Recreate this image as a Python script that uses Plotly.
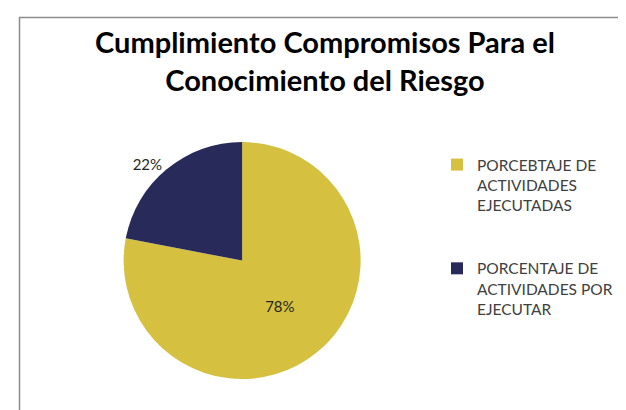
import plotly.graph_objects as go

# datos del gráfico
etiquetas = [
    "PORCEBTAJE DE<br>ACTIVIDADES<br>EJECUTADAS<br> <br> ",
    "PORCENTAJE DE<br>ACTIVIDADES POR<br>EJECUTAR",
]
valores = [78, 22]
colores = ["#D5C040", "#282A5A"]
titulo = "Cumplimiento Compromisos Para el<br>Conocimiento del Riesgo"

fig = go.Figure()

fig.add_trace(
    go.Pie(
        labels=etiquetas,
        values=valores,
        sort=False,
        direction="clockwise",
        rotation=0,
        marker=dict(colors=colores, line=dict(width=0)),
        textinfo="percent",
        texttemplate="%{percent:.0%}",
        textposition=["inside", "outside"],
        insidetextorientation="horizontal",
        textfont=dict(family="Lato", size=15, color="#262626"),
        outsidetextfont=dict(family="Lato", size=15, color="#262626"),
        domain=dict(x=[0.124, 0.624], y=[0.095, 0.673]),
        hoverinfo="label+percent",
    )
)

# marco del área del gráfico
fig.add_shape(
    type="rect", xref="paper", yref="paper",
    x0=11.5 / 626, x1=1.05, y0=-0.05, y1=1 - 9.5 / 410,
    line=dict(color="#8C8C8C", width=1.5),
)

fig.update_layout(
    width=626,
    height=410,
    margin=dict(l=0, r=0, t=0, b=0),
    paper_bgcolor="white",
    plot_bgcolor="white",
    title=dict(
        text=titulo,
        x=317 / 626,
        xanchor="center",
        y=1 - 45 / 410,
        yanchor="top",
        font=dict(family="Lato", size=29, color="black", weight="bold"),
    ),
    legend=dict(
        x=429 / 626,
        xanchor="left",
        y=1 - 140 / 410,
        yanchor="top",
        valign="top",
        font=dict(family="Lato", size=15.5, color="#404040"),
        itemsizing="constant",
    ),
    showlegend=True,
)

fig.write_html("out.html")
